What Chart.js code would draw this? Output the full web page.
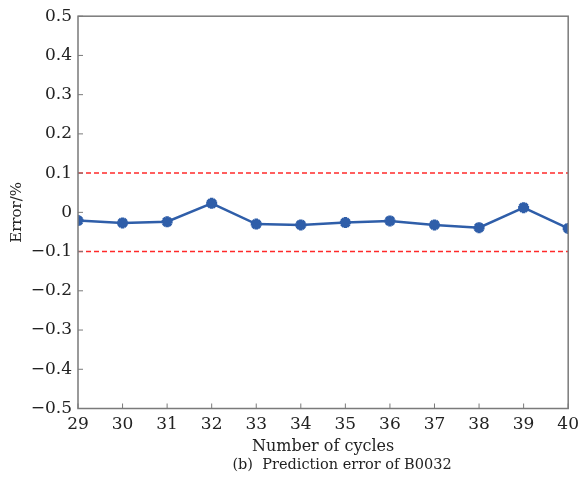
<!DOCTYPE html>
<html>
<head>
    <meta charset="utf-8">
    <title>Prediction error of B0032</title>
    <script src="https://cdn.jsdelivr.net/npm/chart.js@4/dist/chart.umd.min.js"></script>
    <style>
    html,
    body {
        margin: 0;
        padding: 0;
        background: #fff;
    }
    #wrap {
        position: relative;
        width: 585px;
        height: 490px;
    }
    </style>
</head>
<body>
    <div id="wrap"><canvas id="chart"></canvas></div>
    <script>
    // values
    const cycles = [29, 30, 31, 32, 33, 34, 35, 36, 37, 38, 39, 40];
    const errors = [-0.021, -0.027, -0.024, 0.023, -0.030, -0.032, -0.026, -0.022, -0.032, -0.039, 0.012, -0.041];
    const limitUp = 0.1;
    const limitDown = -0.1;
    const caption = '(b)  Prediction error of B0032';

    const serif = '"DejaVu Serif", "Liberation Serif", serif';
    const axisGray = '#7a7a7a';

    function fmt(v) {
        const r = Math.round(v * 10) / 10;
        if (r === 0) return '0';
        return (r < 0 ? '\u2212' : '') + Math.abs(r).toFixed(1);
    }

    // frame, inward ticks and caption
    const framePlugin = {
        id: 'frame',
        afterDraw(chart) {
            const { ctx, chartArea: a, scales } = chart;
            ctx.save();
            ctx.strokeStyle = axisGray;
            ctx.lineWidth = 1.5;
            ctx.strokeRect(a.left, a.top, a.right - a.left, a.bottom - a.top);
            ctx.lineWidth = 1;
            scales.y.ticks.forEach(t => {
                const y = scales.y.getPixelForValue(t.value);
                ctx.beginPath();
                ctx.moveTo(a.left, y);
                ctx.lineTo(a.left + 5, y);
                ctx.stroke();
            });
            scales.x.ticks.forEach(t => {
                const x = scales.x.getPixelForValue(t.value);
                ctx.beginPath();
                ctx.moveTo(x, a.bottom);
                ctx.lineTo(x, a.bottom - 5);
                ctx.stroke();
            });
            ctx.fillStyle = '#222';
            ctx.font = '14.5px ' + serif;
            ctx.textAlign = 'center';
            ctx.textBaseline = 'middle';
            ctx.fillText(caption, 342, 465);
            ctx.restore();
        }
    };

    const ctx = document.getElementById('chart').getContext('2d');
    window.chart = new Chart(ctx, {
        type: 'line',
        data: {
            datasets: [{
                data: cycles.map((c, i) => ({ x: c, y: errors[i] })),
                borderColor: '#2f5ea9',
                backgroundColor: '#2f5ea9',
                borderWidth: 2.5,
                pointStyle: 'star',
                pointRadius: 5.5,
                pointBorderWidth: 3.5,
                tension: 0
            }, {
                data: [{ x: cycles[0], y: limitUp }, { x: cycles[cycles.length - 1], y: limitUp }],
                borderColor: '#ff2a2a',
                borderWidth: 1.5,
                borderDash: [5, 3],
                pointRadius: 0
            }, {
                data: [{ x: cycles[0], y: limitDown }, { x: cycles[cycles.length - 1], y: limitDown }],
                borderColor: '#ff2a2a',
                borderWidth: 1.5,
                borderDash: [5, 3],
                pointRadius: 0
            }]
        },
        options: {
            responsive: true,
            maintainAspectRatio: false,
            animation: false,
            layout: { padding: { top: 13, right: 12, bottom: 0, left: 0 } },
            plugins: {
                legend: { display: false },
                tooltip: { enabled: false }
            },
            scales: {
                x: {
                    type: 'linear',
                    min: 29,
                    max: 40,
                    afterFit: s => { s.height = 81.5; },
                    grid: { display: false, drawTicks: false },
                    border: { display: false },
                    ticks: {
                        stepSize: 1,
                        padding: 6,
                        color: '#222',
                        font: { family: serif, size: 17 },
                        maxRotation: 0
                    },
                    title: {
                        display: true,
                        text: 'Number of cycles',
                        color: '#222',
                        font: { family: serif, size: 16 },
                        padding: { top: 0, bottom: 34 }
                    }
                },
                y: {
                    min: -0.5,
                    max: 0.5,
                    afterFit: s => { s.width = 78; },
                    grid: { display: false, drawTicks: false },
                    border: { display: false },
                    ticks: {
                        stepSize: 0.1,
                        padding: 6,
                        color: '#222',
                        font: { family: serif, size: 17 },
                        callback: v => fmt(v)
                    },
                    title: {
                        display: true,
                        text: 'Error/%',
                        color: '#222',
                        font: { family: serif, size: 15 },
                        padding: { top: 8, bottom: 0 }
                    }
                }
            }
        },
        plugins: [framePlugin]
    });
    </script>
</body>
</html>
